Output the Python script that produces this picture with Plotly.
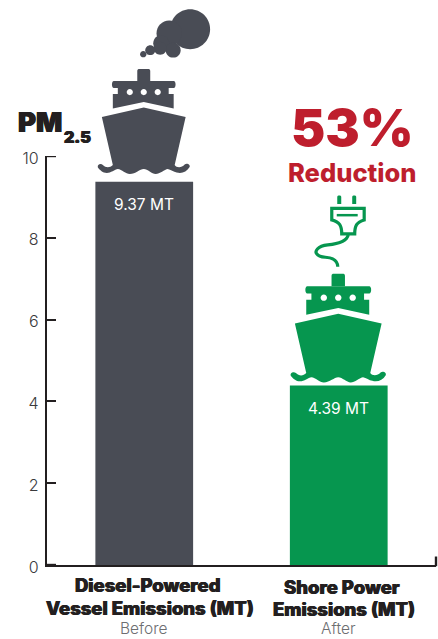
import re
import plotly.graph_objects as go

categories = ["Diesel-Powered Vessel Emissions (MT)", "Shore Power Emissions (MT)"]
values = [9.37, 4.39]
value_labels = ["9.37 MT", "4.39 MT"]
bar_colors = ["#494C55", "#06964F"]
y_ticks = [0, 2, 4, 6, 8, 10]
label_lines = [["Diesel-Powered", "Vessel Emissions (MT)"], ["Shore Power", "Emissions (MT)"]]
sub_labels = ["Before", "After"]

W, H = 438, 639
L, R, T, B = 46.5, 436.5, 156, 565.5
FONT = "Inter"
INK = "#231F20"
RED = "#BE1E2D"
GREY, GREEN = bar_colors
THICK = "0.5px 0 0 {0}, -0.5px 0 0 {0}"


def px(x, y):
    return (x - L) / (R - L), (B - y) / (B - T)


def to_paper(d, sx=1.0, ox=0.0, oy=0.0):
    def rep(m):
        x, y = float(m.group(1)), float(m.group(2))
        a, b = px(ox + sx * x, oy + sx * y)
        return f"{a:.5f},{b:.5f}"
    return re.sub(r"(-?[\d.]+),(-?[\d.]+)", rep, d)


def circle(cx, cy, r):
    k = 0.5523 * r
    return (f"M{cx-r},{cy} C{cx-r},{cy-k} {cx-k},{cy-r} {cx},{cy-r} "
            f"C{cx+k},{cy-r} {cx+r},{cy-k} {cx+r},{cy} "
            f"C{cx+r},{cy+k} {cx+k},{cy+r} {cx},{cy+r} "
            f"C{cx-k},{cy+r} {cx-r},{cy+k} {cx-r},{cy} Z")


def fill(d, color, **t):
    return dict(type="path", xref="paper", yref="paper", path=to_paper(d, **t),
                fillcolor=color, line=dict(width=0), layer="above")


def stroke(d, color, w, **t):
    return dict(type="path", xref="paper", yref="paper", path=to_paper(d, **t),
                line=dict(color=color, width=w), layer="above")


# Ship drawn in pixel space with funnel centred on x=0, funnel top at y=0
SHIP = [
    "M-6.5,2 C-6.5,0.5 -5.5,0 -4.5,0 L4.5,0 C5.5,0 6.5,0.5 6.5,2 L6.5,12 L-6.5,12 Z",
    "M-30,12 L30,12 C32.5,12 32.5,19 30,19 L-30,19 C-32.5,19 -32.5,12 -30,12 Z",
    "M-26,18 L25,18 L25,27 L-26,27 Z",
    "M-31,25 L30,25 L30,39.5 L0,33 L-31,39.5 Z",
    ("M0,38.5 L42,48 L31,96 C33,99 38,99 41,95.5 C43,93.5 47,95.5 46,98 "
     "C43,103 38,105 33,103.5 C30,103 27,100.5 24,100 C21,100.5 16,105 12,105 "
     "C8,105 4,100 0,100 C-4,100 -8,105 -14,105 C-18,105 -22,100.5 -26,100 "
     "C-29,100.5 -33,104 -37,104 C-41,104 -44,101 -46,98.5 "
     "C-47,95.5 -43,94 -41,96 C-38,99 -34,99 -31,96 L-42,48 Z"),
]
PORTS = [circle(x, 23, 3.1) for x in (-14, 0, 14)]

shapes = []
for cx, cy, s, color in [(143.5, 69, 1.0, GREY), (338.5, 274, 1.035, GREEN)]:
    for d in SHIP:
        shapes.append(fill(d, color, sx=s, ox=cx, oy=cy))
    for d in PORTS:
        shapes.append(fill(d, "white", sx=s, ox=cx, oy=cy))

# Smoke
for c in [(190, 29, 20), (169, 33, 12.7), (161, 43, 8), (173, 50, 7.5),
          (160, 48, 6.5), (150, 50, 5), (143, 54, 3.2)]:
    shapes.append(fill(circle(*c), GREY))

# Plug and cord
shapes += [
    fill("M337.5,197 C337.5,195 341.5,195 341.5,197 L341.5,204 L337.5,204 Z", GREEN),
    fill("M352.5,197 C352.5,195 356.5,195 356.5,197 L356.5,204 L352.5,204 Z", GREEN),
    stroke("M332,208.5 L364.5,208.5 L364.5,220 C357,222 355,226 355,234 L342,234 "
           "C342,226 340,222 332,220 Z", GREEN, 3.2),
    fill("M337,214 L358,214 L358,216.5 L337,216.5 Z", GREEN),
    stroke("M348.5,235 C347,242 338,244 328,245 C317,246 315,252 317,254 "
           "C320,259 328,256 333,259 C337,261 338,264 338,267", GREEN, 3.2),
]

# Closing tick at right end of the baseline, and the end ticks of the value axis
shapes.append(dict(type="line", xref="paper", yref="paper",
                   x0=1, x1=1, y0=-0.003, y1=px(0, 557)[1],
                   line=dict(color=INK, width=2.4), layer="above"))
for tick in (y_ticks[0], y_ticks[-1]):
    shapes.append(dict(type="line", xref="paper", yref="y", x0=-0.003, x1=9 / (R - L),
                       y0=tick, y1=tick, line=dict(color=INK, width=2.4), layer="above"))


def note(text, x, y, size, color=INK, weight=400, xanchor="center", shadow=None):
    a, b = px(x, y)
    f = dict(family=FONT, size=size, color=color, weight=weight)
    if shadow:
        f["shadow"] = shadow
    return dict(text=text, x=a, y=b, xref="paper", yref="paper", showarrow=False,
                xanchor=xanchor, yanchor="middle", align="center", font=f, borderpad=0)


annotations = [
    note("PM", 16, 122, 27.5, weight=900, xanchor="left", shadow=THICK.format(INK)),
    note("2.5", 63, 137, 16, weight=900, xanchor="left", shadow=THICK.format(INK)),
    note("53%", 353, 127, 51.5, RED, 900),
    note("Reduction", 353, 173, 25.5, RED, 800),
]
label_xs = [[148, 150], [342, 344]]
label_ys = [[586, 609], [588, 610]]
sub_xs = [144, 339]
for lines, xs, ys, sx, sub in zip(label_lines, label_xs, label_ys, sub_xs, sub_labels):
    for t, x, y in zip(lines, xs, ys):
        annotations.append(note(t, x, y, 18.5, weight=800, shadow=THICK.format(INK)))
    annotations.append(note(sub, sx, 629, 15.5, "#6D6E71", 300))
for cat, v, t in zip(categories, values, value_labels):
    annotations.append(dict(x=cat, y=v, xref="x", yref="y", text=t, showarrow=False,
                            yshift=-23, font=dict(family=FONT, size=15.5, color="white")))

fig = go.Figure(go.Bar(x=categories, y=values, width=98 / (R - L) * 2,
                       marker=dict(color=bar_colors, line=dict(width=0))))
fig.update_layout(
    width=W, height=H, showlegend=False, plot_bgcolor="white", paper_bgcolor="white",
    margin=dict(l=L, r=W - R, t=T, b=H - B, autoexpand=False),
    shapes=shapes, annotations=annotations,
    font=dict(family=FONT, color=INK),
)
fig.update_xaxes(showticklabels=False, ticks="", showline=True, linecolor=INK, linewidth=2.4,
                 showgrid=False, zeroline=False)
fig.update_yaxes(range=[0, 10], tickvals=y_ticks, ticks="inside", ticklen=9, tickwidth=2.4,
                 tickcolor=INK, showline=True, linecolor=INK, linewidth=2.4, showgrid=False,
                 zeroline=False, ticklabelshift=2, ticklabelstandoff=3,
                 tickfont=dict(family=FONT, size=16, color="#3A3A3C", weight=300))
fig.write_html("out.html", config={"displayModeBar": False},
               post_script="document.body.style.margin='0';")
